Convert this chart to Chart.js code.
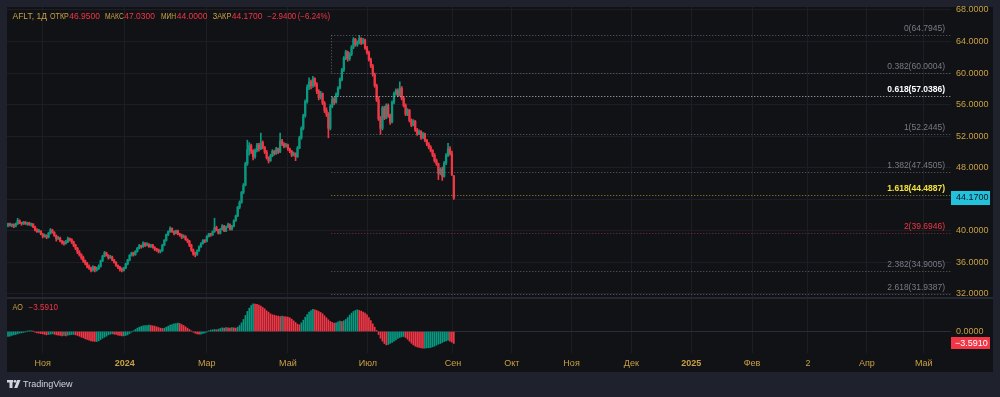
<!DOCTYPE html>
<html>
<head>
<meta charset="utf-8">
<script src="https://cdn.jsdelivr.net/npm/chart.js@4.4.1/dist/chart.umd.min.js"></script>
<style>
html, body { margin: 0; padding: 0; background: #1f222c; }
canvas { display: block; }
</style>
</head>
<body>
<canvas id="chart" width="1000" height="397"></canvas>
<script>
// daily candles, AFLT (index = trading day, first bar early Oct 2023)
const opens = [
  40.7,40.9,40.7,40.8,40.6,40.9,41.3,41.0,40.9,41.1, 40.9,41.0,40.8,40.9,40.5,40.1,39.9,40.0,39.6,39.3,
  39.4,39.2,39.7,40.1,39.8,39.4,39.0,39.1,38.7,38.5, 38.4,38.6,39.0,38.9,38.6,38.2,37.8,37.3,37.0,36.6,
  36.2,35.9,35.5,35.3,35.0,35.4,35.1,35.2,35.5,36.2, 36.8,37.2,36.9,36.6,36.7,36.3,36.0,35.6,35.4,35.1,
  35.0,35.3,35.8,36.3,36.9,37.2,37.0,37.4,37.8,38.1, 38.0,38.4,38.2,38.3,38.0,38.2,37.9,37.7,37.6,37.4,
  37.5,38.2,38.8,39.5,39.9,40.3,39.9,39.7,40.0,39.6, 39.5,39.2,39.3,38.9,38.7,38.2,37.6,37.1,37.0,37.5,
  38.0,38.4,38.8,38.7,39.3,39.6,39.5,39.9,40.4,40.1, 39.7,40.2,40.6,40.0,40.5,40.8,40.2,40.6,41.3,41.9,
  43.0,43.6,44.9,45.8,48.5,50.3,50.8,50.1,49.4,50.2, 50.9,50.4,51.2,50.6,50.0,49.3,48.9,49.5,50.1,49.8,
  50.4,50.0,51.4,51.0,50.7,50.9,50.4,50.1,49.6,49.8, 49.4,50.5,51.8,53.0,54.6,56.4,58.2,58.9,58.4,59.3,
  58.6,57.7,56.9,57.4,56.2,55.3,54.8,53.0,55.8,56.7, 56.3,57.3,58.1,59.2,60.4,61.9,62.7,61.8,62.4,63.3,
  64.3,63.6,63.9,64.4,63.8,64.2,63.2,62.6,61.7,60.9, 59.8,58.4,56.6,54.2,53.0,55.6,54.3,55.9,54.6,53.8,
  56.3,57.4,57.8,57.2,58.1,56.8,55.9,54.8,55.3,54.0, 53.4,53.9,52.8,52.3,52.6,51.8,52.3,51.5,51.0,50.6,
  50.2,49.6,48.9,48.5,47.3,47.8,46.9,48.6,49.6,50.4, 49.8,46.95
];
const highs = [
  41.0,41.0,40.9,40.9,41.0,41.6,41.4,41.1,41.2,41.2, 41.1,41.1,41.0,40.9,40.6,40.3,40.2,40.0,39.7,39.6,
  39.5,39.8,40.3,40.2,39.9,39.5,39.3,39.2,38.8,38.7, 38.8,39.2,39.1,39.0,38.7,38.3,37.9,37.5,37.1,36.8,
  36.3,36.0,35.7,35.4,35.6,35.5,35.4,35.7,36.3,36.9, 37.4,37.3,37.0,36.9,36.8,36.4,36.1,35.7,35.5,35.3,
  35.4,35.9,36.4,37.0,37.3,37.3,37.5,37.9,38.3,38.2, 38.6,38.5,38.5,38.4,38.3,38.3,38.0,37.8,37.7,37.6,
  38.3,38.9,39.6,40.0,40.5,40.4,40.0,40.1,40.1,39.7, 39.6,39.5,39.4,39.0,38.8,38.3,37.7,37.3,37.6,38.1,
  38.5,38.9,38.9,39.4,39.7,39.7,40.0,41.6,40.6,40.2, 40.3,40.8,40.7,40.6,41.0,40.9,40.7,41.4,42.0,43.1,
  43.8,45.0,46.0,48.7,51.5,51.2,51.0,50.3,50.4,51.1, 51.1,52.4,51.4,50.7,50.2,49.4,49.7,50.3,50.2,50.6,
  50.5,52.4,51.6,51.2,51.1,51.0,50.5,50.2,50.0,49.9, 50.7,52.0,53.2,54.8,56.6,58.5,59.4,59.1,59.6,59.4,
  58.8,57.9,57.7,57.5,56.4,55.6,55.0,56.0,57.0,56.9, 57.5,58.3,59.4,60.6,62.1,62.9,62.8,62.6,63.5,64.5,
  64.4,64.1,64.79,64.5,64.4,64.3,63.4,62.8,61.9,61.1, 60.0,58.6,57.0,54.5,55.8,55.8,56.1,56.1,54.8,56.5,
  57.6,58.0,58.0,58.9,58.3,57.0,56.1,55.5,55.4,54.2, 54.1,54.0,53.0,52.8,52.7,52.5,52.4,51.6,51.2,50.8,
  50.3,49.8,49.1,48.6,48.0,48.1,48.8,49.8,51.1,50.7, 50.1,47.03
];
const lows = [
  40.5,40.6,40.5,40.4,40.5,40.8,40.9,40.7,40.8,40.8, 40.7,40.7,40.6,40.4,40.0,39.8,39.8,39.5,39.1,39.2,
  39.0,39.1,39.6,39.7,39.3,38.7,38.9,38.6,38.3,38.2, 38.3,38.5,38.7,38.4,38.0,37.6,37.1,36.8,36.4,36.0,
  35.7,35.3,35.1,34.8,34.9,34.8,34.9,35.1,35.4,36.1, 36.7,36.8,36.4,36.5,36.2,35.9,35.5,35.2,34.9,34.8,
  34.9,35.2,35.7,36.2,36.8,36.8,36.9,37.3,37.7,37.8, 37.9,38.0,38.1,37.9,37.9,37.8,37.5,37.4,37.2,37.2,
  37.4,38.1,38.7,39.4,39.8,39.8,39.5,39.6,39.5,39.3, 39.0,39.1,38.8,38.5,38.0,37.4,36.9,36.7,36.9,37.4,
  37.9,38.3,38.5,38.6,39.2,39.3,39.4,39.8,40.0,39.6, 39.6,40.1,39.9,39.9,40.4,40.1,40.1,40.5,41.2,41.8,
  42.8,43.5,44.7,45.7,48.3,49.6,49.8,49.0,49.2,50.0, 50.1,50.3,50.4,49.8,49.1,48.6,48.8,49.4,49.6,49.7,
  49.8,49.9,50.8,50.5,50.6,50.2,49.9,49.4,49.5,48.9, 49.3,50.4,51.6,52.8,54.4,56.2,57.9,58.0,58.2,58.3,
  57.4,56.6,56.7,56.0,55.0,54.5,51.8,52.8,55.6,56.0, 56.2,57.1,58.0,59.0,60.2,61.7,61.5,61.6,62.2,63.1,
  63.4,63.4,63.7,63.6,63.7,63.0,62.4,61.5,60.7,59.6, 58.2,56.4,54.0,52.24,52.8,54.1,54.2,54.4,53.5,53.7,
  56.1,57.2,57.0,57.1,56.6,55.7,54.6,54.6,53.8,53.2, 53.3,52.6,52.1,52.2,51.6,51.7,51.3,50.8,50.4,50.0,
  49.4,48.7,48.3,46.5,47.1,46.4,46.8,48.4,49.4,49.6, 47.0,44.0
];
const closes = [
  40.9,40.7,40.8,40.6,40.9,41.3,41.0,40.9,41.1,40.9, 41.0,40.8,40.9,40.5,40.1,39.9,40.0,39.6,39.3,39.4,
  39.2,39.7,40.1,39.8,39.4,39.0,39.1,38.7,38.5,38.4, 38.6,39.0,38.9,38.6,38.2,37.8,37.3,37.0,36.6,36.2,
  35.9,35.5,35.3,35.0,35.4,35.1,35.2,35.5,36.2,36.8, 37.2,36.9,36.6,36.7,36.3,36.0,35.6,35.4,35.1,35.0,
  35.3,35.8,36.3,36.9,37.2,37.0,37.4,37.8,38.1,38.0, 38.4,38.2,38.3,38.0,38.2,37.9,37.7,37.6,37.4,37.5,
  38.2,38.8,39.5,39.9,40.3,39.9,39.7,40.0,39.6,39.5, 39.2,39.3,38.9,38.7,38.2,37.6,37.1,37.0,37.5,38.0,
  38.4,38.8,38.7,39.3,39.6,39.5,39.9,40.4,40.1,39.7, 40.2,40.6,40.0,40.5,40.8,40.2,40.6,41.3,41.9,43.0,
  43.6,44.9,45.8,48.5,50.3,50.8,50.1,49.4,50.2,50.9, 50.4,51.2,50.6,50.0,49.3,48.9,49.5,50.1,49.8,50.4,
  50.0,51.4,51.0,50.7,50.9,50.4,50.1,49.6,49.8,49.4, 50.5,51.8,53.0,54.6,56.4,58.2,58.9,58.4,59.3,58.6,
  57.7,56.9,57.4,56.2,55.3,54.8,53.0,55.8,56.7,56.3, 57.3,58.1,59.2,60.4,61.9,62.7,61.8,62.4,63.3,64.3,
  63.6,63.9,64.4,63.8,64.2,63.2,62.6,61.7,60.9,59.8, 58.4,56.6,54.2,53.0,55.6,54.3,55.9,54.6,53.8,56.3,
  57.4,57.8,57.2,58.1,56.8,55.9,54.8,55.3,54.0,53.4, 53.9,52.8,52.3,52.6,51.8,52.3,51.5,51.0,50.6,50.2,
  49.6,48.9,48.5,47.3,47.8,46.9,48.6,49.6,50.4,49.8, 47.11,44.17
];

// Awesome Oscillator
const aoValues = [
  -1.5,-1.4,-1.2,-1.0,-0.9,-0.7,-0.5,-0.4,-0.3,-0.1, 0.1,0.2,0.2,0.1,-0.2,-0.4,-0.5,-0.6,-0.7,-0.9,
  -1.0,-0.9,-0.8,-0.7,-0.8,-1.0,-1.1,-1.2,-1.3,-1.2, -1.3,-1.1,-1.0,-0.9,-0.9,-1.0,-1.2,-1.4,-1.7,-1.9,
  -2.2,-2.4,-2.6,-2.8,-2.9,-3.0,-3.0,-2.8,-2.4,-2.0, -1.7,-1.4,-1.0,-0.8,-0.7,-0.8,-0.9,-1.1,-1.2,-1.3,
  -1.3,-1.2,-1.0,-0.6,-0.2,0.2,0.6,1.0,1.3,1.5, 1.7,1.8,1.8,1.9,1.8,1.7,1.6,1.4,1.2,1.0,
  0.9,1.0,1.3,1.6,1.9,2.1,2.3,2.4,2.5,2.4, 2.1,1.8,1.4,1.0,0.6,0.2,-0.2,-0.5,-0.7,-0.8,
  -0.8,-0.6,-0.4,-0.1,0.2,0.4,0.5,0.6,0.5,0.7, 0.9,1.1,1.0,1.2,1.1,1.0,1.2,1.1,1.0,1.3,
  1.8,2.6,3.6,4.8,6.0,7.0,7.8,8.3,8.2,8.1, 7.9,7.6,7.2,6.8,6.2,5.8,5.3,5.0,4.9,4.7,
  4.6,4.5,4.6,4.5,4.4,4.3,4.1,3.7,3.2,2.7, 2.2,2.0,2.6,3.4,4.3,5.1,5.8,6.3,6.6,6.5,
  6.3,6.0,5.7,5.3,4.7,4.1,3.5,3.0,2.7,2.5, 2.6,2.9,3.1,3.0,3.2,3.6,4.2,4.9,5.5,6.0,
  6.3,6.5,6.3,6.1,5.8,5.5,5.0,4.2,3.3,2.3, 1.3,0.3,-0.9,-2.0,-2.9,-3.6,-4.0,-3.9,-3.6,-3.3,
  -2.9,-2.5,-2.1,-1.8,-1.6,-1.5,-1.8,-2.3,-2.9,-3.5, -4.0,-4.4,-4.6,-4.8,-4.9,-5.0,-5.0,-4.9,-4.9,-4.8,
  -4.6,-4.4,-4.1,-3.8,-3.6,-3.3,-3.0,-2.8,-2.6,-2.9, -3.2,-3.591
];

const priceTicks = [32, 36, 40, 44, 48, 52, 56, 60, 64, 68];
const aoTicks = [0];
const timeTickPos = [18, 60.5, 103, 145, 186.5, 230.5, 261, 292, 323, 354, 385.5, 414.5, 445, 474.5];
const timeTickLabels = ['Ноя', '2024', 'Мар', 'Май', 'Июл', 'Сен', 'Окт', 'Ноя', 'Дек', '2025', 'Фев', '2', 'Апр', 'Май'];

// trend based fib extension drawn on the chart
const fibRatios = ['0', '0.382', '0.618', '1', '1.382', '1.618', '2', '2.382', '2.618'];
const fibPrices = [64.7945, 60.0004, 57.0386, 52.2445, 47.4505, 44.4887, 39.6946, 34.9005, 31.9387];
const fibStartBar = 167.5;

const FONT = '"Liberation Sans", Arial, sans-serif';
const GOLD = '#c9a043';
const UP = '#089981';
const DOWN = '#f23645';
const GRID = '#1c1e24';
const FRAME = '#1f222c';
const PANEL = '#111216';

/*
 * Colour of each candle: green when it closed above its open
 */
function candleColors() {
    var colors = [];
    for (var i = 0; i < closes.length; i++) {
        colors.push(closes[i] >= opens[i] ? UP : DOWN);
    }
    return colors;
}

/*
 * AO bars are green when rising against the previous bar
 */
function aoColors() {
    var colors = [];
    for (var i = 0; i < aoValues.length; i++) {
        if (i == 0 || aoValues[i] >= aoValues[i - 1]) {
            colors.push(UP);
        } else {
            colors.push(DOWN);
        }
    }
    return colors;
}

function fmtMinus(v, digits) {
    return (v < 0 ? '\u2212' : '') + Math.abs(v).toFixed(digits);
}

// maxWidth squeezes the text into the width it takes in the screenshot
function drawText(ctx, text, x, y, color, size, weight, align, maxWidth) {
    ctx.font = (weight || 'normal') + ' ' + size + 'px ' + FONT;
    ctx.fillStyle = color;
    ctx.textAlign = align || 'left';
    ctx.textBaseline = 'middle';
    if (maxWidth) {
        ctx.fillText(text, x, y, maxWidth);
    } else {
        ctx.fillText(text, x, y);
    }
}

/*
 * Background frame, fib lines, legend texts and the axis price boxes
 */
const tvDecor = {
    id: 'tvDecor',
    beforeDraw(chart) {
        var ctx = chart.ctx;
        ctx.save();
        ctx.fillStyle = FRAME;
        ctx.fillRect(0, 0, chart.width, chart.height);
        ctx.fillStyle = PANEL;
        ctx.fillRect(7, 7, 986, 365);
        ctx.restore();
    },
    afterDatasetsDraw(chart) {
        var ctx = chart.ctx;
        var xs = chart.scales.x;
        var ys = chart.scales.y;
        var area = chart.chartArea;
        var x0 = xs.getPixelForValue(fibStartBar);

        ctx.save();
        ctx.lineWidth = 1;
        ctx.setLineDash([1, 2]);
        for (var k = 0; k < fibPrices.length; k++) {
            var y = Math.round(ys.getPixelForValue(fibPrices[k])) + 0.5;
            var line = 'rgba(120,123,134,0.75)';
            var label = '#787b86';
            var weight = 'normal';
            if (fibRatios[k] == '0.618') { line = '#b8bbc4'; label = '#ffffff'; weight = 'bold'; }
            if (fibRatios[k] == '1.618') { line = '#9a8e25'; label = '#f5e23c'; weight = 'bold'; }
            if (fibRatios[k] == '2') { line = '#8a2a33'; label = '#f23645'; }
            ctx.strokeStyle = line;
            ctx.beginPath();
            ctx.moveTo(x0, y);
            ctx.lineTo(area.right, y);
            ctx.stroke();
            drawText(ctx, fibRatios[k] + '(' + fibPrices[k].toFixed(4) + ')', 945, y - 6.5, label, 8.5, weight, 'right');
        }
        // trend line of the tool between its first two levels
        ctx.strokeStyle = 'rgba(120,123,134,0.75)';
        ctx.beginPath();
        ctx.moveTo(Math.round(x0) + 0.5, ys.getPixelForValue(fibPrices[0]));
        ctx.lineTo(Math.round(x0) + 0.5, ys.getPixelForValue(fibPrices[1]));
        ctx.stroke();
        ctx.restore();
    },
    afterDraw(chart) {
        var ctx = chart.ctx;
        var ys = chart.scales.y;
        var ya = chart.scales.yAO;
        var n = closes.length - 1;
        var change = closes[n] - closes[n - 1];
        var pct = change / closes[n - 1] * 100;

        ctx.save();
        // pane separator
        ctx.fillStyle = '#252833';
        ctx.fillRect(7, 297, 986, 2);

        // legend of the main series
        drawText(ctx, 'AFLT, 1Д', 12.5, 17, GOLD, 8.5, 'normal', 'left', 34.5);
        drawText(ctx, 'ОТКР', 50, 17, GOLD, 8.5, 'normal', 'left', 18.8);
        drawText(ctx, opens[n].toFixed(4), 69.3, 17, DOWN, 8.5, 'normal', 'left', 30.7);
        drawText(ctx, 'МАКС', 105, 17, GOLD, 8.5, 'normal', 'left', 18.8);
        drawText(ctx, highs[n].toFixed(4), 124.3, 17, DOWN, 8.5, 'normal', 'left', 30.7);
        drawText(ctx, 'МИН', 161, 17, GOLD, 8.5, 'normal', 'left', 15.2);
        drawText(ctx, lows[n].toFixed(4), 176.7, 17, DOWN, 8.5, 'normal', 'left', 30.7);
        drawText(ctx, 'ЗАКР', 212.7, 17, GOLD, 8.5, 'normal', 'left', 18.6);
        drawText(ctx, closes[n].toFixed(4), 231.7, 17, DOWN, 8.5, 'normal', 'left', 30.7);
        drawText(ctx, fmtMinus(change, 4), 267.3, 17, DOWN, 8.5, 'normal', 'left', 29);
        drawText(ctx, '(' + fmtMinus(pct, 2) + '%)', 297.7, 17, DOWN, 8.5, 'normal', 'left', 32.5);

        // legend of the oscillator
        drawText(ctx, 'AO', 12.5, 308, GOLD, 8.5, 'normal', 'left', 10.5);
        drawText(ctx, fmtMinus(aoValues[n], 4), 28.5, 308, DOWN, 8.5, 'normal', 'left', 29.5);

        // last price boxes on the price scales
        var yp = ys.getPixelForValue(closes[n]);
        ctx.fillStyle = '#22c1dc';
        ctx.fillRect(951, Math.round(yp) - 7, 39, 14);
        drawText(ctx, closes[n].toFixed(4), 956, yp, '#131722', 9);

        var yo = ya.getPixelForValue(aoValues[n]);
        ctx.fillStyle = DOWN;
        ctx.fillRect(951, Math.round(yo) - 6, 39, 12);
        drawText(ctx, fmtMinus(aoValues[n], 4), 955, yo, '#ffffff', 9);

        // TradingView mark
        ctx.fillStyle = '#d1d4dc';
        ctx.fillRect(7, 380, 6, 2.5);
        ctx.fillRect(9.5, 380, 3, 8);
        ctx.beginPath();
        ctx.arc(15, 381.3, 1.4, 0, Math.PI * 2);
        ctx.fill();
        ctx.beginPath();
        ctx.moveTo(17.2, 380);
        ctx.lineTo(20.5, 380);
        ctx.lineTo(17.3, 388);
        ctx.lineTo(14.2, 388);
        ctx.closePath();
        ctx.fill();
        drawText(ctx, 'TradingView', 23, 384.5, '#d1d4dc', 9);
        ctx.restore();
    }
};

function renderChart() {
    var ctx = document.getElementById('chart').getContext('2d');
    var colors = candleColors();

    var wicks = lows.map((l, i) => ({ x: i, y: [l, highs[i]] }));
    var bodies = opens.map((o, i) => ({ x: i, y: [o, closes[i]] }));
    var ao = aoValues.map((v, i) => ({ x: i, y: v }));

    var tickFont = { family: FONT, size: 9 };

    new Chart(ctx, {
        type: 'bar',
        data: {
            datasets: [
                { data: wicks, yAxisID: 'y', backgroundColor: colors, barThickness: 1, grouped: false, order: 2 },
                { data: bodies, yAxisID: 'y', backgroundColor: colors, barThickness: 1.6, minBarLength: 1, grouped: false, order: 1 },
                { data: ao, yAxisID: 'yAO', backgroundColor: aoColors(), barThickness: 1, grouped: false, order: 3 }
            ]
        },
        options: {
            responsive: false,
            animation: false,
            events: [],
            layout: { padding: { left: 7, right: 7, top: 7, bottom: 25 } },
            plugins: { legend: { display: false }, tooltip: { enabled: false } },
            scales: {
                x: {
                    type: 'linear',
                    min: -0.52,
                    max: 488.6,
                    offset: false,
                    afterBuildTicks: s => { s.ticks = timeTickPos.map(v => ({ value: v })); },
                    afterFit: s => { s.height = 19; s.paddingLeft = 0; s.paddingRight = 0; },
                    grid: { color: GRID, drawTicks: false, offset: false },
                    border: { display: false },
                    ticks: {
                        color: GOLD,
                        padding: 5,
                        maxRotation: 0,
                        autoSkip: false,
                        font: c => ({ family: FONT, size: 9, weight: /^\d{4}$/.test(timeTickLabels[c.index]) ? 'bold' : 'normal' }),
                        callback: (v, i) => timeTickLabels[i]
                    }
                },
                y: {
                    type: 'linear',
                    position: 'right',
                    stack: 'panes',
                    stackWeight: 291,
                    min: 31.49,
                    max: 68.38,
                    afterBuildTicks: s => { s.ticks = priceTicks.map(v => ({ value: v })); },
                    afterFit: s => { s.width = 42; s.paddingTop = 0; s.paddingBottom = 0; },
                    grid: { color: GRID, drawTicks: false },
                    border: { display: false },
                    ticks: { color: GOLD, font: tickFont, padding: 5, autoSkip: false, callback: v => v.toFixed(4) }
                },
                yAO: {
                    type: 'linear',
                    position: 'right',
                    stack: 'panes',
                    stackWeight: 55,
                    min: -6.44,
                    max: 10.03,
                    afterBuildTicks: s => { s.ticks = aoTicks.map(v => ({ value: v })); },
                    afterFit: s => { s.width = 42; s.paddingTop = 0; s.paddingBottom = 0; },
                    grid: { color: '#2a2d36', drawTicks: false },
                    border: { display: false },
                    ticks: { color: GOLD, font: tickFont, padding: 5, autoSkip: false, callback: v => v.toFixed(4) }
                }
            }
        },
        plugins: [tvDecor]
    });
}

renderChart();
</script>
</body>
</html>
